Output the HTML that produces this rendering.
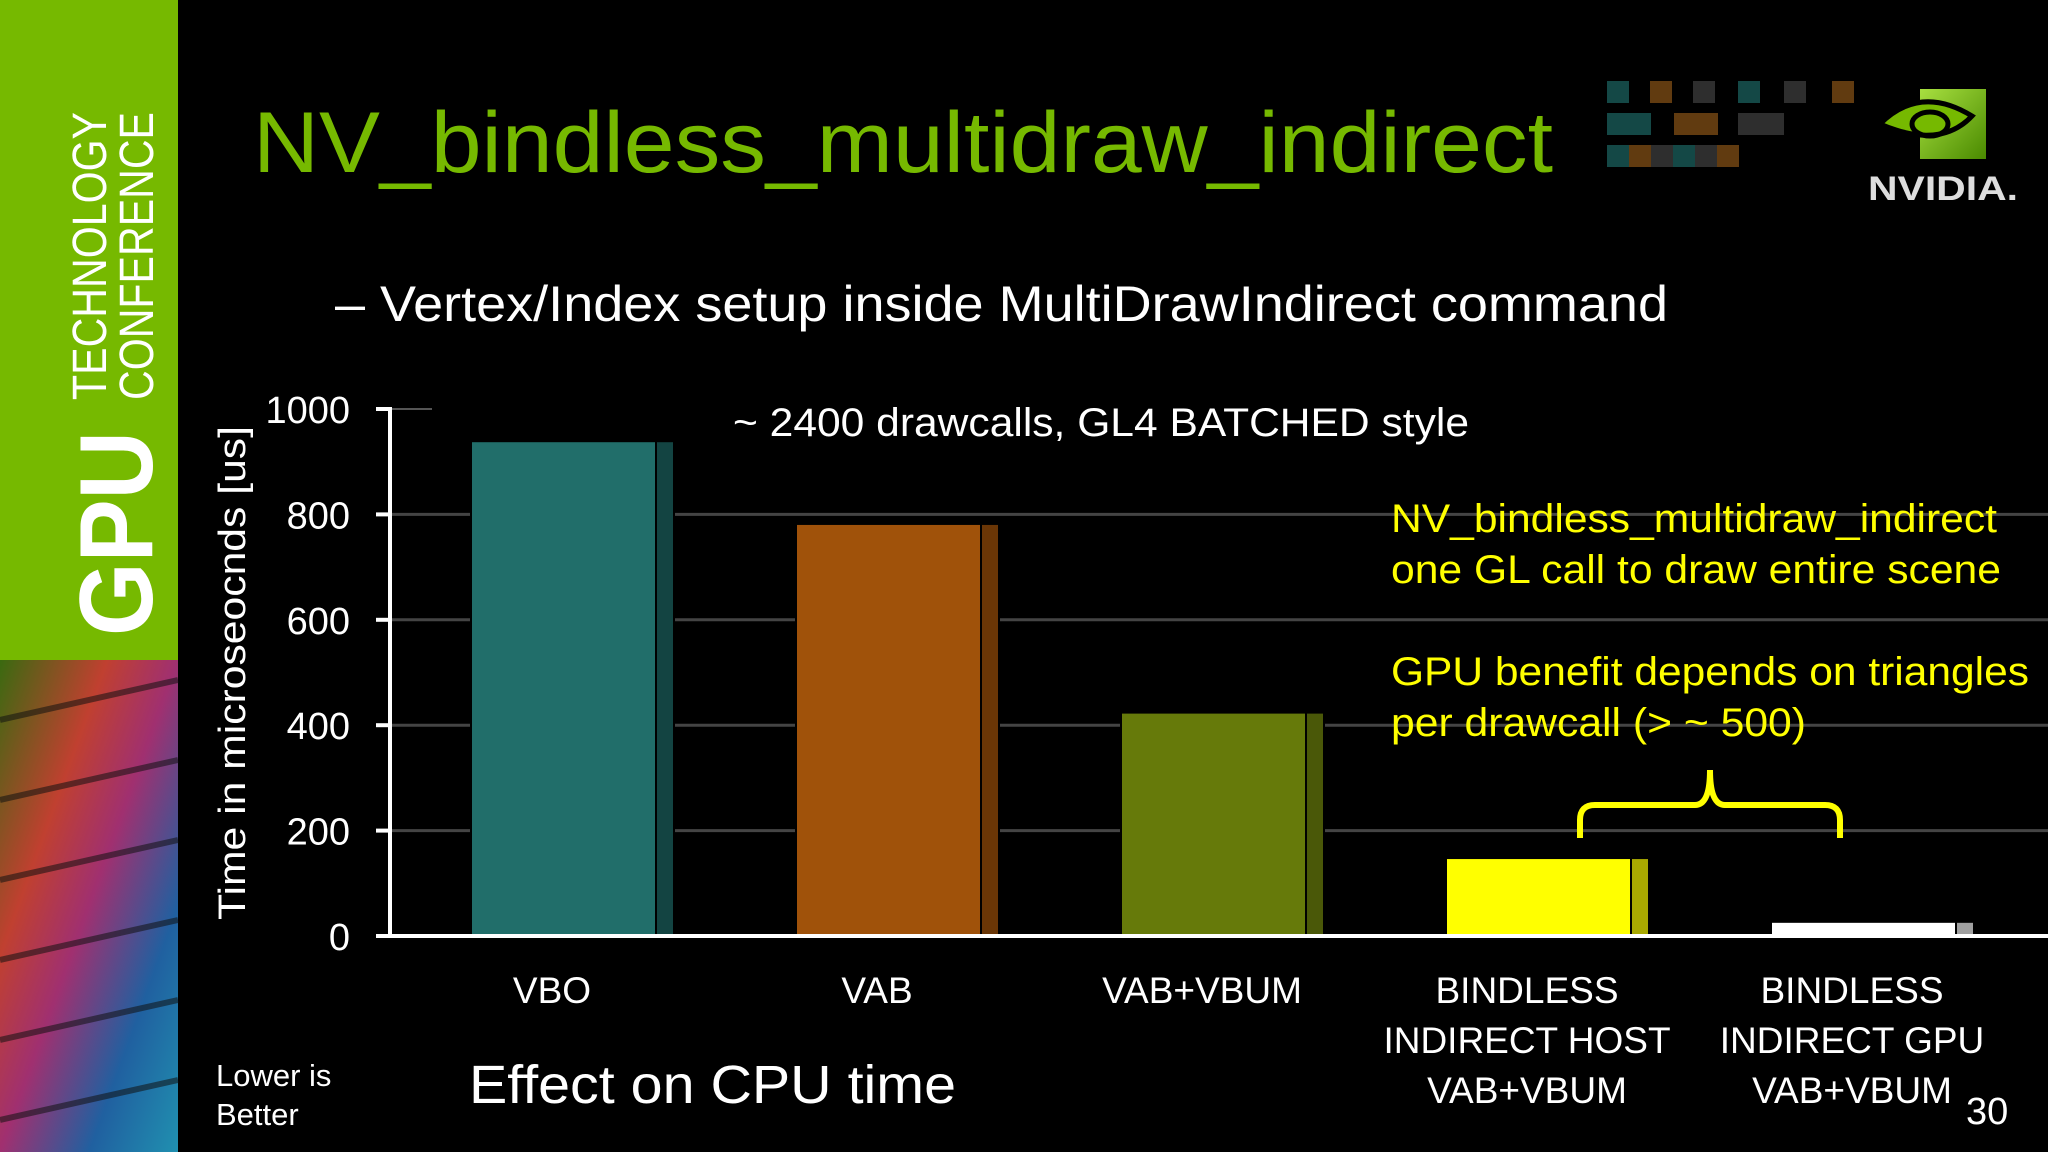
<!DOCTYPE html>
<html><head><meta charset="utf-8"><style>
html,body{margin:0;padding:0;background:#000;width:2048px;height:1152px;overflow:hidden}
svg{display:block}
text{font-family:"Liberation Sans",sans-serif}
</style></head><body>
<svg id="slide" width="2048" height="1152" viewBox="0 0 2048 1152" xmlns="http://www.w3.org/2000/svg">
<defs>
<linearGradient id="circ" x1="0" y1="0" x2="1" y2="1">
<stop offset="0" stop-color="#3a6a10"/><stop offset="0.3" stop-color="#c04030"/><stop offset="0.5" stop-color="#a03070"/><stop offset="0.75" stop-color="#2060a0"/><stop offset="1" stop-color="#2090b0"/>
</linearGradient>
<linearGradient id="logoG" x1="0" y1="0" x2="1" y2="1"><stop offset="0" stop-color="#a8e040"/><stop offset="1" stop-color="#4a8a00"/></linearGradient>
</defs>
<rect x="0" y="0" width="178" height="660" fill="#76b900"/>
<rect x="0" y="660" width="178" height="492" fill="url(#circ)"/>
<g opacity="0.55" stroke="#111" stroke-width="6">
<line x1="0" y1="720" x2="178" y2="680"/><line x1="0" y1="800" x2="178" y2="760"/><line x1="0" y1="880" x2="178" y2="840"/><line x1="0" y1="960" x2="178" y2="920"/><line x1="0" y1="1040" x2="178" y2="1000"/><line x1="0" y1="1120" x2="178" y2="1080"/>
</g>
<g>
<text transform="translate(152,636) rotate(-90)" font-size="104" font-weight="bold" fill="#fff" textLength="205" lengthAdjust="spacingAndGlyphs">GPU</text>
<text transform="translate(106,400) rotate(-90)" font-size="48" fill="#fff" textLength="288" lengthAdjust="spacingAndGlyphs">TECHNOLOGY</text>
<text transform="translate(153,400) rotate(-90)" font-size="48" fill="#fff" textLength="288" lengthAdjust="spacingAndGlyphs">CONFERENCE</text>
</g>
<text x="253" y="172" font-size="86" fill="#76b900" textLength="1300" lengthAdjust="spacingAndGlyphs">NV_bindless_multidraw_indirect</text>
<g opacity="0.8">
<rect x="1607" y="81" width="22" height="22" fill="#1a5a58"/><rect x="1650" y="81" width="22" height="22" fill="#7a4a14"/><rect x="1693" y="81" width="22" height="22" fill="#3a3a3a"/><rect x="1738" y="81" width="22" height="22" fill="#1a5a58"/><rect x="1784" y="81" width="22" height="22" fill="#3a3a3a"/><rect x="1832" y="81" width="22" height="22" fill="#7a4a14"/>
<rect x="1607" y="113" width="44" height="22" fill="#1a5a58"/><rect x="1674" y="113" width="44" height="22" fill="#7a4a14"/><rect x="1738" y="113" width="46" height="22" fill="#3a3a3a"/>
<rect x="1607" y="145" width="22" height="22" fill="#1a5a58"/><rect x="1629" y="145" width="22" height="22" fill="#7a4a14"/><rect x="1651" y="145" width="22" height="22" fill="#3a3a3a"/><rect x="1673" y="145" width="22" height="22" fill="#1a5a58"/><rect x="1695" y="145" width="22" height="22" fill="#3a3a3a"/><rect x="1717" y="145" width="22" height="22" fill="#7a4a14"/>
</g>
<g>
<rect x="1920" y="89" width="66" height="70" fill="url(#logoG)"/>
<path d="M1880 124 Q1920 84 1972 116 Q1940 150 1880 124 Z" fill="#76b900" stroke="#000" stroke-width="5"/>
<ellipse cx="1930" cy="124" rx="18" ry="12" fill="none" stroke="#000" stroke-width="5"/>
<text x="1868" y="200" font-size="34" font-weight="bold" fill="#ddd" textLength="150" lengthAdjust="spacingAndGlyphs">NVIDIA.</text>
</g>
<text x="335" y="321" font-size="50" fill="#fff" textLength="1333" lengthAdjust="spacingAndGlyphs">– Vertex/Index setup inside MultiDrawIndirect command</text>

<g id="chart"></g>

<text x="733" y="436" font-size="40" fill="#fff" textLength="736" lengthAdjust="spacingAndGlyphs">~ 2400 drawcalls, GL4 BATCHED style</text>
<g font-size="40" fill="#ffff00">
<text x="1391" y="532" textLength="606" lengthAdjust="spacingAndGlyphs">NV_bindless_multidraw_indirect</text>
<text x="1391" y="583" textLength="610" lengthAdjust="spacingAndGlyphs">one GL call to draw entire scene</text>
<text x="1391" y="685" textLength="638" lengthAdjust="spacingAndGlyphs">GPU benefit depends on triangles</text>
<text x="1391" y="736" textLength="415" lengthAdjust="spacingAndGlyphs">per drawcall (&gt; ~ 500)</text>
</g>
<path d="M1580 838 L1580 820 Q1580 805 1595 805 L1695 805 Q1710 805 1710 770 Q1710 805 1725 805 L1825 805 Q1840 805 1840 820 L1840 838" fill="none" stroke="#ffff00" stroke-width="6"/>
<text transform="translate(245,920) rotate(-90)" font-size="38" fill="#fff" textLength="494" lengthAdjust="spacingAndGlyphs">Time in microseocnds [us]</text>
<g font-size="31" fill="#fff">
<text x="216" y="1086">Lower is</text><text x="216" y="1125">Better</text>
</g>
<text x="469" y="1103" font-size="54" fill="#fff" textLength="487" lengthAdjust="spacingAndGlyphs">Effect on CPU time</text>
<text x="1966" y="1124" font-size="38" fill="#fff">30</text>
</svg>
<script>
const categories = [["VBO"],["VAB"],["VAB+VBUM"],["BINDLESS","INDIRECT HOST","VAB+VBUM"],["BINDLESS","INDIRECT GPU","VAB+VBUM"]];
const values = [937, 780, 422, 146, 25];
const yTicks = [0, 200, 400, 600, 800, 1000];
const tickLabels = ["0","200","400","600","800","1000"];
const colors = ["#216e6a","#a0520a","#667a0a","#ffff00","#ffffff"];
const sideColors = ["#134442","#6a3606","#4a5808","#a8a800","#a0a0a0"];

const NS = "http://www.w3.org/2000/svg";
const g = document.getElementById("chart");
const y0 = 936, y1 = 409, ax = 390;
const yScale = v => y0 - (v / 1000) * (y0 - y1);
const xStart = 472, step = 325;
const xScale = i => xStart + i * step;
function mk(tag, attrs){const e=document.createElementNS(NS,tag);for(const k in attrs)e.setAttribute(k,attrs[k]);g.appendChild(e);return e;}

yTicks.forEach((t,i)=>{
  const y = yScale(t);
  if (t > 0 && t < 1000) {
    const gl = mk("line",{x1:ax,y1:y,x2:2048,y2:y,stroke:"#444","stroke-width":3});
    
    
  }
  if (t === 1000) {
    const gl = mk("line",{x1:ax,y1:y,x2:432,y2:y,stroke:"#555","stroke-width":2});
    
    
  }
  const tk = mk("line",{x1:376,y1:y,x2:ax,y2:y,stroke:"#fff","stroke-width":4});
  
  
  const lb = mk("text",{x:350,y:y+14,"font-size":38,fill:"#fff","text-anchor":"end"});
  lb.textContent = tickLabels[i];
  
  
});

values.forEach((v,i)=>{
  const x = xScale(i), top = yScale(v), w = 183, sw = 16;
  const bg = mk("rect",{x:x-2,y:top,width:w+sw+6,height:y0-top,fill:"#000"});
  
  
  const b = mk("rect",{x:x,y:top,width:w,height:y0-top,fill:colors[i]});
  
  
  const s = mk("rect",{x:x+w+2,y:top,width:sw,height:y0-top,fill:sideColors[i]});
  
  
  const cx = x + 80;
  categories[i].forEach((ln,j)=>{
    const t = mk("text",{x:cx,y:1003+j*50,"font-size":37,fill:"#fff","text-anchor":"middle"});
    t.textContent = ln;
    
    
  });
});

const xa = mk("line",{x1:378,y1:y0,x2:2048,y2:y0,stroke:"#fff","stroke-width":4});


const ya = mk("line",{x1:ax,y1:y1-2,x2:ax,y2:y0+2,stroke:"#fff","stroke-width":4});


</script>
</body></html>
